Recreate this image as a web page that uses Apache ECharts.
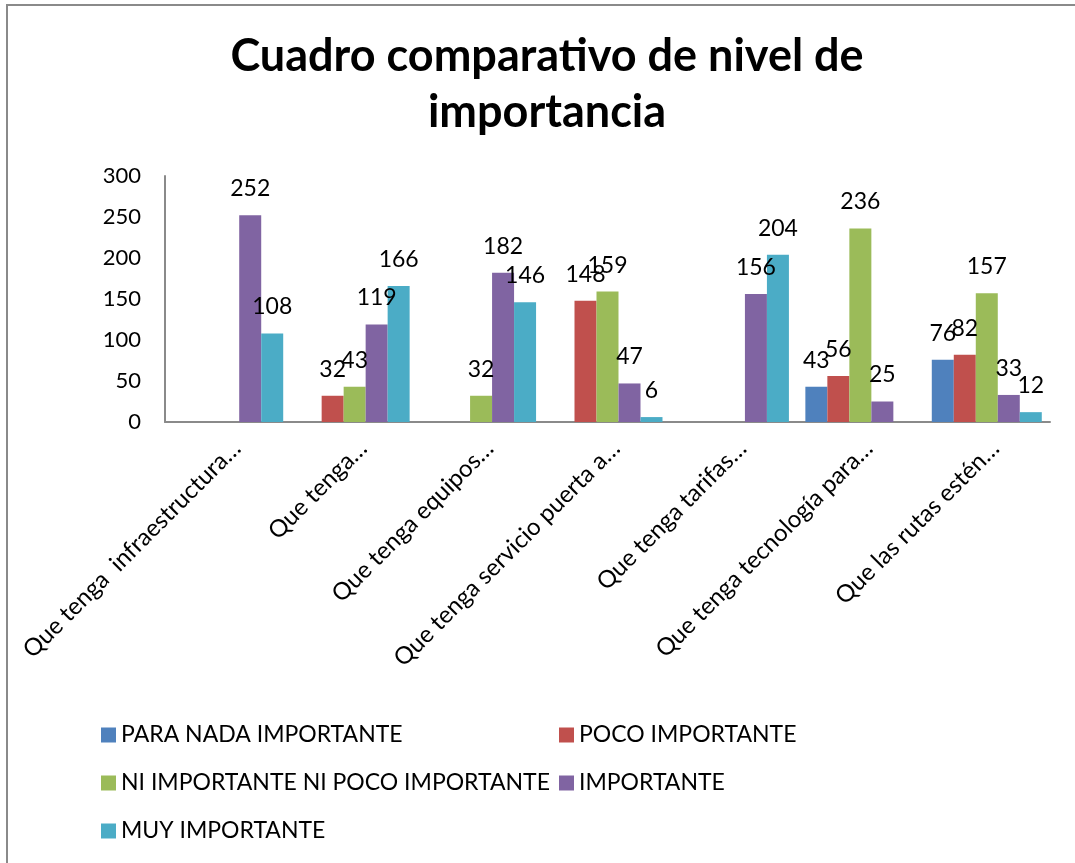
<!DOCTYPE html>
<html>
<head>
<meta charset="utf-8">
<script src="https://cdn.jsdelivr.net/npm/echarts@6/dist/echarts.min.js"></script>
<style>
  body { margin: 0; background: #fff; }
  #frame {
    position: absolute;
    left: 6px;
    top: 4px;
    width: 1100px;
    height: 900px;
    border: 2px solid #8a8a8a;
    box-sizing: border-box;
  }
  #chart { position: absolute; left: 0; top: 0; width: 1075px; height: 863px; }
</style>
</head>
<body>
<div id="frame"></div>
<div id="chart"></div>
<script>
// categorias (eje x)
var categories = [
  "Que tenga  infraestructura…",
  "Que tenga…",
  "Que tenga equipos…",
  "Que tenga servicio puerta a…",
  "Que tenga tarifas…",
  "Que tenga tecnología para…",
  "Que las rutas estén…"
];
// series
var paraNada = [null, null, null, null, null, 43, 76];
var poco = [null, 32, null, 148, null, 56, 82];
var niNi = [null, 43, 32, 159, null, 236, 157];
var importante = [252, 119, 182, 47, 156, 25, 33];
var muy = [108, 166, 146, 6, 204, null, 12];
var yTicks = [0, 50, 100, 150, 200, 250, 300];

var font = "Lato, 'Liberation Sans', sans-serif";
var myChart = echarts.init(document.getElementById("chart"));

function serie(name, data, color) {
  return {
    name: name,
    type: "bar",
    data: data,
    barGap: "0%",
    barCategoryGap: "13%",
    itemStyle: { color: color },
    label: {
      show: true,
      position: "top",
      distance: 15,
      color: "#000",
      fontSize: 23,
      fontFamily: font
    }
  };
}

var legendText = { color: "#000", fontSize: 23, lineHeight: 24, fontFamily: font };

var option = {
  animation: false,
  backgroundColor: "transparent",
  title: {
    text: "Cuadro comparativo de nivel de\nimportancia",
    left: 542,
    textAlign: "center",
    top: 23,
    textStyle: {
      fontFamily: font,
      fontWeight: "bold",
      fontSize: 45,
      lineHeight: 56,
      color: "#000"
    }
  },
  grid: {
    left: 165,
    right: 25,
    top: 176,
    bottom: 441,
    containLabel: false
  },
  legend: [
    {
      data: ["PARA NADA IMPORTANTE", "NI IMPORTANTE NI POCO IMPORTANTE", "MUY IMPORTANTE"],
      orient: "vertical",
      left: 96,
      top: 718,
      itemWidth: 15,
      itemHeight: 15,
      itemGap: 24,
      icon: "rect",
      textStyle: legendText
    },
    {
      data: ["POCO IMPORTANTE", "IMPORTANTE"],
      orient: "vertical",
      left: 554,
      top: 718,
      itemWidth: 15,
      itemHeight: 15,
      itemGap: 24,
      icon: "rect",
      textStyle: legendText
    }
  ],
  xAxis: {
    type: "category",
    data: categories,
    axisTick: { show: false },
    axisLine: { lineStyle: { color: "#8a8a8a", width: 2 } },
    axisLabel: {
      interval: 0,
      rotate: 45,
      margin: 14,
      verticalAlign: "top",
      color: "#000",
      fontSize: 24,
      fontFamily: font
    }
  },
  yAxis: {
    type: "value",
    min: yTicks[0],
    max: yTicks[yTicks.length - 1],
    interval: 50,
    splitLine: { show: false },
    axisTick: { show: false },
    axisLine: { show: true, lineStyle: { color: "#8a8a8a", width: 2 } },
    axisLabel: {
      margin: 24,
      color: "#000",
      fontSize: 22,
      fontFamily: font
    }
  },
  series: [
    serie("PARA NADA IMPORTANTE", paraNada, "#4F81BD"),
    serie("POCO IMPORTANTE", poco, "#C0504D"),
    serie("NI IMPORTANTE NI POCO IMPORTANTE", niNi, "#9BBB59"),
    serie("IMPORTANTE", importante, "#8064A2"),
    serie("MUY IMPORTANTE", muy, "#4BACC6")
  ]
};

myChart.setOption(option);
window.addEventListener("resize", function () {
  myChart.resize();
});
</script>
</body>
</html>
